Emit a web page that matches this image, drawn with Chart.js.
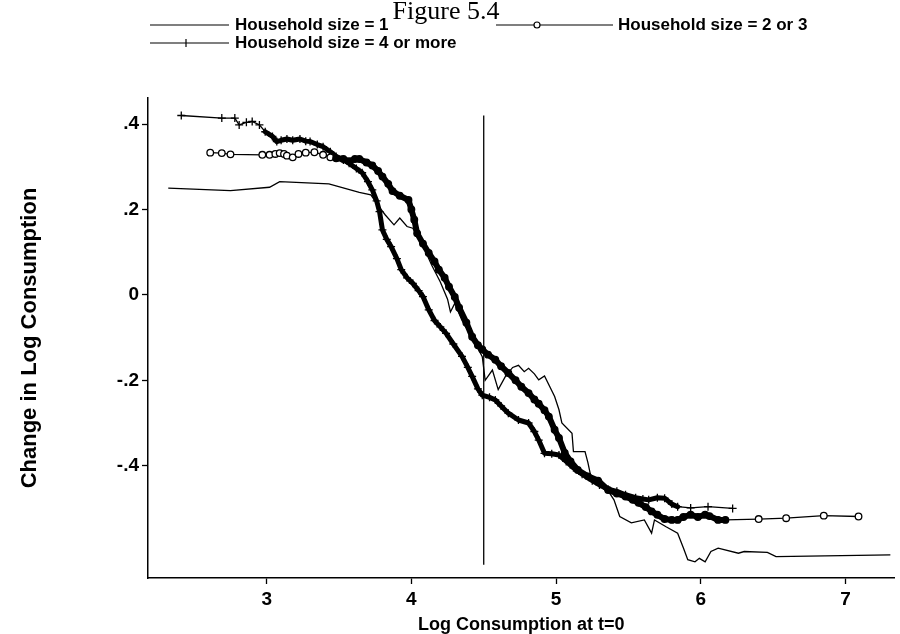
<!DOCTYPE html>
<html>
<head>
<meta charset="utf-8">
<title>Figure 5.4</title>
<script src="https://cdn.jsdelivr.net/npm/chart.js@4.4.1/dist/chart.umd.min.js"></script>
<style>
  body { margin: 0; background: #fff; }
  #wrap { width: 900px; height: 634px; }
</style>
</head>
<body>
<div id="wrap"><canvas id="fig" width="900" height="634"></canvas></div>
<script>
/* ================= DATA ================= */
const titleText = "Figure 5.4";
const seriesNames = ["Household size = 1", "Household size = 2 or 3", "Household size = 4 or more"];
const xTitle = "Log Consumption at t=0";
const yTitle = "Change in Log Consumption";

const xTicks = [3, 4, 5, 6, 7];
const yTicks = [0.4, 0.2, 0, -0.2, -0.4];
const yTickLabels = [".4", ".2", "0", "-.2", "-.4"];

// household size = 1 (thin line)
const size1X = [2.32, 2.75, 3.02, 3.09, 3.43, 3.64, 3.72, 3.78, 3.82, 3.88, 3.92, 3.97, 4.01, 4.04,
  4.08, 4.14, 4.20, 4.25, 4.27, 4.30, 4.35, 4.42, 4.49, 4.51, 4.56, 4.60, 4.65, 4.70, 4.74, 4.78,
  4.81, 4.85, 4.88, 4.92, 4.99, 5.02, 5.04, 5.11, 5.12, 5.20, 5.22, 5.24, 5.31, 5.40, 5.44, 5.52,
  5.61, 5.66, 5.68, 5.76, 5.84, 5.88, 5.91, 5.96, 5.99, 6.03, 6.07, 6.12, 6.26, 6.30, 6.46, 6.52, 7.31];
const size1Y = [0.250, 0.244, 0.252, 0.265, 0.260, 0.240, 0.234, 0.205, 0.187, 0.164, 0.180, 0.160, 0.156, 0.137,
  0.115, 0.070, 0.030, -0.010, -0.040, -0.020, -0.060, -0.100, -0.145, -0.200, -0.176, -0.222, -0.191, -0.170, -0.165, -0.180,
  -0.172, -0.185, -0.199, -0.190, -0.238, -0.269, -0.300, -0.324, -0.367, -0.367, -0.393, -0.425, -0.433, -0.480, -0.519, -0.534,
  -0.527, -0.558, -0.527, -0.543, -0.558, -0.593, -0.620, -0.625, -0.617, -0.625, -0.601, -0.593, -0.605, -0.601, -0.603, -0.613, -0.609];

// household size = 2 or 3 (circles)
const size23X = [2.61, 2.69, 2.75, 2.97, 3.02, 3.06, 3.09, 3.12, 3.14, 3.18, 3.22, 3.27, 3.33, 3.39, 3.44,
  3.48, 3.53, 3.57, 3.61, 3.64, 3.69, 3.73, 3.77, 3.80, 3.84, 3.87, 3.92, 3.98, 4.00, 4.02, 4.04,
  4.08, 4.12, 4.16, 4.19, 4.23, 4.26, 4.30, 4.33, 4.38, 4.42, 4.46, 4.49, 4.53, 4.58, 4.62, 4.67,
  4.72, 4.76, 4.81, 4.85, 4.88, 4.92, 4.95, 4.99, 5.02, 5.06, 5.10, 5.15, 5.22, 5.29, 5.36, 5.42,
  5.48, 5.53, 5.57, 5.62, 5.66, 5.70, 5.75, 5.80, 5.84, 5.88, 5.93, 5.98, 6.03, 6.06, 6.12, 6.17,
  6.40, 6.59, 6.85, 7.09];
const size23Y = [0.333, 0.332, 0.329, 0.328, 0.328, 0.330, 0.332, 0.330, 0.326, 0.322, 0.330, 0.333, 0.334, 0.328, 0.322,
  0.320, 0.318, 0.313, 0.318, 0.318, 0.310, 0.303, 0.290, 0.277, 0.260, 0.243, 0.232, 0.222, 0.200, 0.176, 0.144,
  0.120, 0.098, 0.078, 0.059, 0.040, 0.019, -0.005, -0.030, -0.065, -0.098, -0.118, -0.128, -0.140, -0.152, -0.167, -0.183,
  -0.200, -0.215, -0.230, -0.245, -0.255, -0.270, -0.285, -0.316, -0.335, -0.370, -0.390, -0.410, -0.425, -0.435, -0.457, -0.465,
  -0.472, -0.480, -0.487, -0.497, -0.507, -0.515, -0.525, -0.527, -0.527, -0.520, -0.515, -0.520, -0.515, -0.518, -0.527, -0.527,
  -0.525, -0.523, -0.517, -0.519];

// household size = 4 or more (plus markers)
const size4X = [2.41, 2.69, 2.78, 2.81, 2.86, 2.90, 2.95, 2.99, 3.04, 3.07, 3.10, 3.14, 3.18, 3.23, 3.27,
  3.30, 3.35, 3.39, 3.44, 3.48, 3.53, 3.57, 3.62, 3.66, 3.70, 3.73, 3.76, 3.78, 3.80, 3.83, 3.86,
  3.90, 3.93, 3.97, 4.01, 4.05, 4.08, 4.12, 4.16, 4.20, 4.24, 4.29, 4.35, 4.39, 4.42, 4.46, 4.49,
  4.54, 4.58, 4.62, 4.67, 4.74, 4.81, 4.85, 4.88, 4.92, 4.97, 5.02, 5.07, 5.12, 5.18, 5.25, 5.30,
  5.36, 5.42, 5.48, 5.55, 5.60, 5.64, 5.70, 5.75, 5.80, 5.84, 5.93, 6.05, 6.22];
const size4Y = [0.420, 0.414, 0.414, 0.398, 0.404, 0.406, 0.398, 0.382, 0.371, 0.359, 0.362, 0.365, 0.362, 0.365, 0.360,
  0.359, 0.352, 0.347, 0.335, 0.324, 0.316, 0.308, 0.296, 0.286, 0.265, 0.246, 0.220, 0.195, 0.152, 0.130, 0.113,
  0.085, 0.059, 0.040, 0.027, 0.010, -0.004, -0.035, -0.060, -0.075, -0.090, -0.115, -0.144, -0.170, -0.191, -0.220, -0.235,
  -0.240, -0.246, -0.260, -0.277, -0.293, -0.300, -0.320, -0.340, -0.371, -0.372, -0.375, -0.390, -0.405, -0.420, -0.435, -0.445,
  -0.455, -0.460, -0.468, -0.475, -0.478, -0.480, -0.475, -0.476, -0.490, -0.496, -0.499, -0.496, -0.500];

// reference line at log consumption 4.5
const refLineX = [4.5, 4.5];
const refLineY = [0.42, -0.632];

const xMin = 2.18, xMax = 7.34;
const yMin = -0.663, yMax = 0.461;

/* ================= STYLE HELPERS ================= */
// stretches where the markers sit so close that they print as a solid band
const circleBand = [3.45, 6.2];
const plusBand = [2.99, 5.85];

function toPoints(xs, ys) {
  return xs.map((x, i) => ({ x: x, y: ys[i] }));
}

function inBand(band, x) {
  return x >= band[0] && x <= band[1];
}

function bandSegment(band, thick) {
  return ctx => (inBand(band, ctx.p0.parsed.x) && inBand(band, ctx.p1.parsed.x)) ? thick : 1.3;
}

const sansFont = "'Liberation Sans', Arial, sans-serif";

/* ================= LEGEND + TITLE ================= */
const legendPlugin = {
  id: "figLegend",
  afterDraw(chart) {
    const ctx = chart.ctx;
    ctx.save();
    ctx.fillStyle = "#000";
    ctx.strokeStyle = "#000";

    ctx.font = "26px 'Liberation Serif', 'Times New Roman', serif";
    ctx.textAlign = "center";
    ctx.textBaseline = "alphabetic";
    ctx.fillText(titleText, 446, 19);

    ctx.font = "bold 17px " + sansFont;
    ctx.textAlign = "left";
    ctx.textBaseline = "middle";
    ctx.lineWidth = 1.2;

    // size = 1
    ctx.beginPath(); ctx.moveTo(150, 25); ctx.lineTo(229, 25); ctx.stroke();
    ctx.fillText(seriesNames[0], 235, 25);

    // size = 2 or 3
    ctx.beginPath(); ctx.moveTo(496, 25); ctx.lineTo(613, 25); ctx.stroke();
    ctx.beginPath(); ctx.arc(537, 25, 3, 0, Math.PI * 2);
    ctx.fillStyle = "#fff"; ctx.fill(); ctx.stroke();
    ctx.fillStyle = "#000";
    ctx.fillText(seriesNames[1], 618, 25);

    // size = 4 or more
    ctx.beginPath(); ctx.moveTo(150, 43); ctx.lineTo(229, 43); ctx.stroke();
    ctx.beginPath(); ctx.moveTo(186, 39); ctx.lineTo(186, 47); ctx.stroke();
    ctx.fillText(seriesNames[2], 235, 43);

    ctx.restore();
  }
};

/* ================= CHART ================= */
new Chart(document.getElementById("fig"), {
  type: "line",
  data: {
    datasets: [
      {
        label: "ref",
        data: toPoints(refLineX, refLineY),
        borderColor: "#000",
        borderWidth: 1.3,
        pointRadius: 0
      },
      {
        label: seriesNames[0],
        data: toPoints(size1X, size1Y),
        borderColor: "#000",
        borderWidth: 1.3,
        pointRadius: 0
      },
      {
        label: seriesNames[1],
        data: toPoints(size23X, size23Y),
        borderColor: "#000",
        borderWidth: 1.3,
        borderJoinStyle: "round",
        borderCapStyle: "round",
        segment: { borderWidth: bandSegment(circleBand, 6) },
        pointStyle: "circle",
        pointRadius: 3.3,
        pointBorderWidth: 1.3,
        pointBorderColor: "#000",
        pointBackgroundColor: ctx => inBand(circleBand, size23X[ctx.dataIndex]) ? "#000" : "#fff"
      },
      {
        label: seriesNames[2],
        data: toPoints(size4X, size4Y),
        borderColor: "#000",
        borderWidth: 1.3,
        borderJoinStyle: "round",
        borderCapStyle: "round",
        segment: { borderWidth: bandSegment(plusBand, 5) },
        pointStyle: "cross",
        pointRadius: 4,
        pointBorderWidth: 1.3,
        pointBorderColor: "#000"
      }
    ]
  },
  options: {
    responsive: false,
    animation: false,
    devicePixelRatio: 1,
    layout: { padding: { top: 98, right: 3, bottom: 0, left: 0 } },
    plugins: {
      legend: { display: false },
      title: { display: false },
      tooltip: { enabled: false }
    },
    elements: { line: { tension: 0 } },
    scales: {
      x: {
        type: "linear",
        min: xMin,
        max: xMax,
        afterBuildTicks: scale => { scale.ticks = xTicks.map(v => ({ value: v })); },
        afterFit: scale => { scale.height = 56; },
        grid: { drawOnChartArea: false, drawTicks: true, tickLength: 6, color: "#000", tickWidth: 1.3 },
        border: { display: true, color: "#000", width: 1.5 },
        ticks: {
          color: "#000",
          padding: 4,
          font: { family: sansFont, size: 19, weight: "bold" },
          callback: v => String(v)
        },
        title: {
          display: true,
          text: xTitle,
          color: "#000",
          font: { family: sansFont, size: 18, weight: "bold", lineHeight: 1.0 },
          padding: { top: 0, bottom: 0 }
        }
      },
      y: {
        type: "linear",
        min: yMin,
        max: yMax,
        afterBuildTicks: scale => { scale.ticks = yTicks.map(v => ({ value: v })); },
        afterFit: scale => { scale.width = 148; },
        grid: { drawOnChartArea: false, drawTicks: true, tickLength: 6, color: "#000", tickWidth: 1.3 },
        border: { display: true, color: "#000", width: 1.5 },
        ticks: {
          color: "#000",
          padding: 3,
          font: { family: sansFont, size: 19, weight: "bold" },
          callback: (v, i) => yTickLabels[i]
        },
        title: {
          display: true,
          text: yTitle,
          color: "#000",
          font: { family: sansFont, size: 22, weight: "bold", lineHeight: 1.0 },
          padding: { top: 19, bottom: 0 }
        }
      }
    }
  },
  plugins: [legendPlugin]
});
</script>
</body>
</html>
